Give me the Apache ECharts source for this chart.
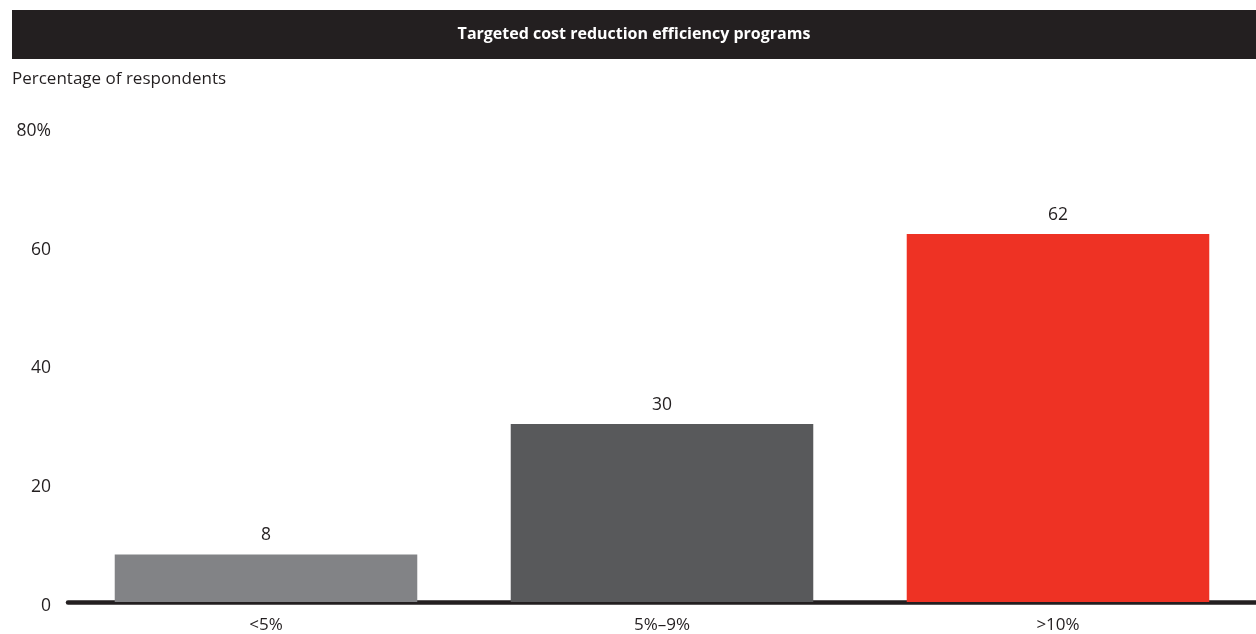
<!DOCTYPE html>
<html><head><meta charset="utf-8">
<script src="https://cdn.jsdelivr.net/npm/echarts@6/dist/echarts.min.js"></script>
<style>html,body{margin:0;padding:0;background:#fff}#c{width:1256px;height:634px}</style>
</head><body><div id="c"></div>
<script>
const categories = ['<5%', '5%\u20139%', '>10%'];
const values = [8, 30, 62];
const barColors = ['#828386', '#58595b', '#ee3224'];
const yTicks = [0, 20, 40, 60, 80];
const title = 'Targeted cost reduction efficiency programs';
const yTitle = 'Percentage of respondents';

const FONT = '"Open Sans", "Noto Sans", sans-serif';
const chart = echarts.init(document.getElementById('c'), null, {renderer: 'canvas'});
chart.setOption({
  animation: false,
  graphic: [
    {type: 'rect', shape: {x: 12, y: 10, width: 1244, height: 49}, style: {fill: '#231f20'}},
    {type: 'text', x: 634, y: 34, style: {text: title, fill: '#fff', font: 'bold 16px ' + FONT, align: 'center', verticalAlign: 'middle'}},
    {type: 'text', x: 12, y: 79, style: {text: yTitle, fill: '#231f20', font: '17px ' + FONT, verticalAlign: 'middle'}}
  ],
  grid: {left: 68, width: 1190, top: 127, bottom: 32, containLabel: false},
  xAxis: {
    type: 'category', data: categories,
    axisLine: {show: true, lineStyle: {color: '#231f20', width: 4.5}},
    axisTick: {show: false},
    axisLabel: {color: '#231f20', fontSize: 17, fontFamily: FONT, margin: 15}
  },
  yAxis: {
    type: 'value', min: yTicks[0], max: yTicks[yTicks.length - 1], interval: 20,
    splitLine: {show: false}, axisLine: {show: false}, axisTick: {show: false},
    axisLabel: {color: '#231f20', fontSize: 17.5, fontFamily: FONT, margin: 17,
      verticalAlign: 'top', lineHeight: 8,
      formatter: v => v === yTicks[yTicks.length - 1] ? v + '%' : String(v)}
  },
  series: [{
    type: 'bar', barWidth: '76.4%',
    data: values.map((v, i) => ({value: v, itemStyle: {color: barColors[i]}})),
    label: {show: true, position: 'top', distance: 10, color: '#231f20', fontSize: 17.5, fontFamily: FONT}
  }]
});
</script></body></html>
